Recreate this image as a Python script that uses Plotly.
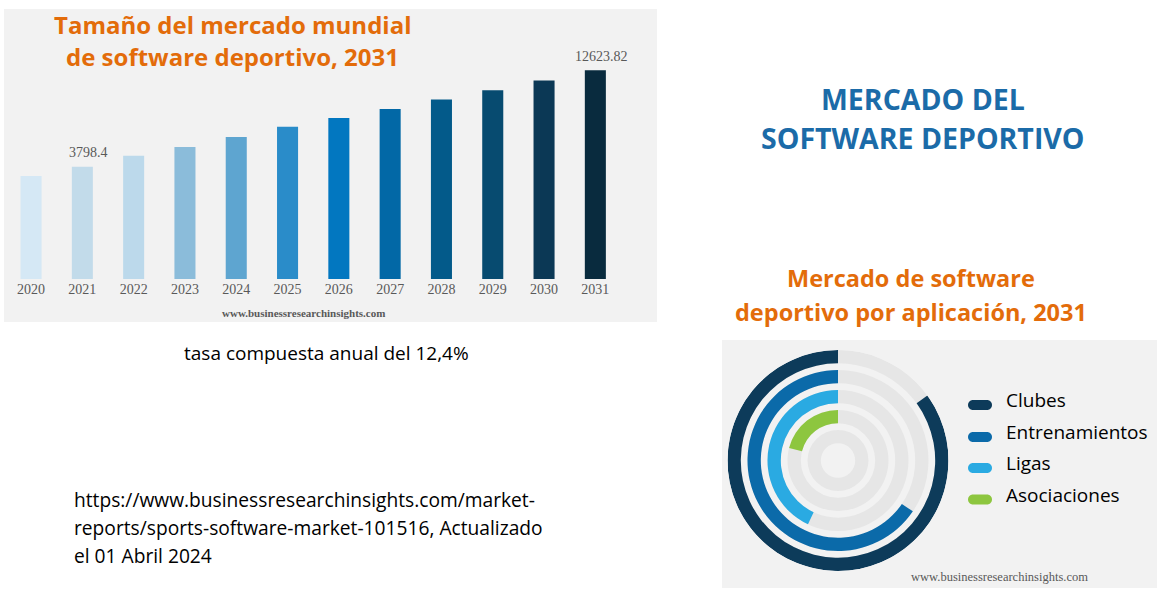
import math
import plotly.graph_objects as go

W, H = 1158, 606

# ---------------- data ----------------
years = ["2020", "2021", "2022", "2023", "2024", "2025",
         "2026", "2027", "2028", "2029", "2030", "2031"]
market_size = [3380, 3798.4, 4357, 4860, 5500, 6250,
               6970, 7790, 8780, 9860, 11120, 12623.82]
labelled_years = ["2021", "2031"]
bar_colors = ["#d5e8f5", "#c2dbea", "#bcd9eb", "#8bbcda", "#5ea5d0", "#2a8cc9",
              "#0277c0", "#0268a6", "#035a8a", "#074b70", "#0b3855", "#092b3e"]

applications = ["Clubes", "Entrenamientos", "Ligas", "Asociaciones"]
app_share = [85, 65.5, 43, 21]          # % of full circle
app_colors = ["#0d3b5a", "#0b6aa9", "#2aaae2", "#8dc63f"]

title_left = ["Tamaño del mercado mundial", "de software deportivo, 2031"]
title_main = ["MERCADO DEL", "SOFTWARE DEPORTIVO"]
title_donut = ["Mercado de software", "deportivo por aplicación, 2031"]
cagr_text = "tasa compuesta anual del 12,4%"
source_lines = ["https://www.businessresearchinsights.com/market-",
                "reports/sports-software-market-101516, Actualizado",
                "el 01 Abril 2024"]
watermark = "www.businessresearchinsights.com"

ORANGE = "#e36c0a"
BLUE = "#1b6ba8"
PANEL = "#f2f2f2"
TRACK = "#e6e6e6"
GREY_TXT = "#595959"
SANS = "Open Sans"
SERIF = "Liberation Serif"


def px(x):
    return x / W


def py(y):
    return 1 - y / H


fig = go.Figure()

# ---------------- bar chart ----------------
fig.add_trace(go.Bar(
    x=years, y=market_size, width=0.41,
    marker=dict(color=bar_colors, line=dict(width=0)),
    xaxis="x", yaxis="y", showlegend=False, hoverinfo="x+y",
))

annotations = []
for yr in labelled_years:
    i = years.index(yr)
    v = market_size[i]
    annotations.append(dict(
        x=i, y=math.log10(v), xref="x", yref="y",
        text=str(v), showarrow=False, yanchor="middle",
        yshift=14, xshift=6,
        font=dict(family=SERIF, size=14, color=GREY_TXT)))

# ---------------- radial bars ----------------
ring_pitch = 1.0
ring_thick = 0.665
n_tracks = len(applications) + 1
outer = n_tracks + 0.525
track_bases = [outer - ring_pitch * k - ring_thick for k in range(n_tracks)]

fig.add_trace(go.Barpolar(
    theta=[180] * n_tracks, width=[360] * n_tracks,
    base=track_bases, r=[ring_thick] * n_tracks,
    marker=dict(color=TRACK, line=dict(width=0)),
    subplot="polar", showlegend=False, hoverinfo="skip",
))
for k, (name, share, col) in enumerate(zip(applications, app_share, app_colors)):
    span = share * 3.6
    fig.add_trace(go.Barpolar(
        theta=[span / 2], width=[span], base=[track_bases[k]], r=[ring_thick],
        marker=dict(color=col, line=dict(width=0)), name=name,
        subplot="polar", showlegend=False,
        hovertemplate=f"{name}: {share}%<extra></extra>",
    ))

cx, cy, R = 838, 460.5, 110.5

# ---------------- shapes (panels + legend pills) ----------------
shapes = [
    dict(type="rect", xref="paper", yref="paper", x0=px(4), x1=px(657),
         y0=py(322), y1=py(9), fillcolor=PANEL, line=dict(width=0), layer="below"),
    dict(type="rect", xref="paper", yref="paper", x0=px(722), x1=px(1157),
         y0=py(588), y1=py(340), fillcolor=PANEL, line=dict(width=0), layer="below"),
]

pill = ("M -7,-5 L 7,-5 C 9.76,-5 12,-2.76 12,0 C 12,2.76 9.76,5 7,5 "
        "L -7,5 C -9.76,5 -12,2.76 -12,0 C -12,-2.76 -9.76,-5 -7,-5 Z")
legend_pill_y = [405, 437, 468, 499.5]
legend_text_y = [400, 432, 463, 495]
for name, col, yp, yt in zip(applications, app_colors, legend_pill_y, legend_text_y):
    shapes.append(dict(type="path", xref="paper", yref="paper",
                       xsizemode="pixel", ysizemode="pixel",
                       xanchor=px(980), yanchor=py(yp), path=pill,
                       fillcolor=col, line=dict(width=0)))
    annotations.append(dict(x=px(1004), y=py(yt), xref="paper", yref="paper",
                            text=name, showarrow=False, xanchor="left", yanchor="middle",
                            font=dict(family=SANS, size=19, color="#000000")))


def txt(x, y, s, size, color, family=SANS, bold=False, anchor="center"):
    annotations.append(dict(
        x=px(x), y=py(y), xref="paper", yref="paper",
        text=f"<b>{s}</b>" if bold else s, showarrow=False,
        xanchor=anchor, yanchor="middle",
        font=dict(family=family, size=size, color=color)))


txt(232, 24, title_left[0], 24, ORANGE, bold=True)
txt(232, 57, title_left[1], 24, ORANGE, bold=True)
txt(303, 313, watermark, 11, GREY_TXT, family=SERIF, bold=True)

txt(923, 99, title_main[0], 28.5, BLUE, bold=True)
txt(923, 138, title_main[1], 28.5, BLUE, bold=True)

txt(911.5, 278, title_donut[0], 23.5, ORANGE, bold=True)
txt(911.5, 312, title_donut[1], 23.5, ORANGE, bold=True)

txt(326, 353, cagr_text, 19, "#000000")
for line, yy in zip(source_lines, [499, 527, 555]):
    txt(72, yy, line, 19.2, "#000000", anchor="left")

txt(999, 577, watermark, 12.5, GREY_TXT, family=SERIF)

# ---------------- layout ----------------
fig.update_layout(
    width=W, height=H,
    margin=dict(l=0, r=0, t=0, b=0),
    paper_bgcolor="white", plot_bgcolor="rgba(0,0,0,0)",
    showlegend=False,
    xaxis=dict(domain=[px(5.4), px(621)], type="category", range=[-0.5, 11.5],
               showgrid=False, zeroline=False, showline=False, ticks="",
               tickfont=dict(family=SERIF, size=14, color=GREY_TXT),
               fixedrange=True),
    yaxis=dict(domain=[py(279), py(40)], type="log", range=[2.9719, 4.2652],
               visible=False, fixedrange=True),
    polar=dict(
        domain=dict(x=[px(cx - R), px(cx + R)], y=[py(cy + R), py(cy - R)]),
        bgcolor="rgba(0,0,0,0)", barmode="overlay",
        radialaxis=dict(range=[0, outer], visible=False, showgrid=False),
        angularaxis=dict(rotation=90, direction="counterclockwise", visible=False,
                         showgrid=False, showticklabels=False, ticks=""),
    ),
    shapes=shapes,
    annotations=annotations,
)

fig.write_html("out.html")
